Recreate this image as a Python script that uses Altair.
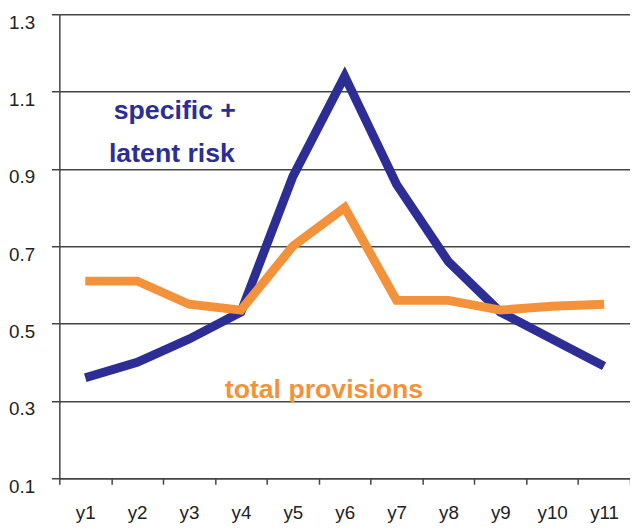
import altair as alt
import pandas as pd

years = ["y1", "y2", "y3", "y4", "y5", "y6", "y7", "y8", "y9", "y10", "y11"]
specific_latent = [0.36, 0.40, 0.46, 0.53, 0.88, 1.14, 0.86, 0.66, 0.53, 0.46, 0.39]
total_provisions = [0.61, 0.61, 0.55, 0.535, 0.70, 0.80, 0.56, 0.56, 0.535, 0.545, 0.55]
series_names = ["specific + latent risk", "total provisions"]
series_colors = ["#2c2e96", "#f3923a"]
y_ticks = [0.1, 0.3, 0.5, 0.7, 0.9, 1.1, 1.3]

df = pd.DataFrame({
    "year": years + years,
    "value": specific_latent + total_provisions,
    "series": [series_names[0]] * len(years) + [series_names[1]] * len(years),
    "idx": list(range(len(years))) * 2,
})

FONT = "Liberation Sans"
GRID = "#444444"

lines = alt.Chart(df).mark_line(strokeWidth=9, strokeCap="butt", strokeJoin="miter").encode(
    x=alt.X("year:N", sort=years, bandPosition=0.5,
            scale=alt.Scale(type="band", paddingInner=0, paddingOuter=0),
            axis=alt.Axis(title=None, labelAngle=0, tickBand="extent", tickSize=6,
                          tickColor=GRID, tickWidth=1.5, domainColor=GRID, domainWidth=1.5,
                          labelFont=FONT, labelFontSize=19, labelColor="#222222",
                          labelPadding=20, grid=False)),
    y=alt.Y("value:Q", scale=alt.Scale(domain=[0.1, 1.3], nice=False, zero=False),
            axis=alt.Axis(title=None, values=y_ticks, format=".1f", grid=True,
                          gridColor=GRID, gridWidth=1.5, tickSize=8, tickColor=GRID,
                          tickWidth=1.5, domainColor=GRID, domainWidth=1.5,
                          labelFont=FONT, labelFontSize=19, labelColor="#222222",
                          labelBaseline="top", labelPadding=17, labelOffset=-1)),
    color=alt.Color("series:N", scale=alt.Scale(domain=series_names, range=series_colors), legend=None),
    order="idx:Q",
)

def label(text, x, y, color):
    return alt.Chart(pd.DataFrame({"t": [text]})).mark_text(
        font=FONT, fontSize=27, fontWeight="bold", color=color, align="center", baseline="alphabetic"
    ).encode(text="t:N", x=alt.value(x), y=alt.value(y))

chart = alt.layer(
    lines,
    label("specific +", 117, 106, series_colors[0]),
    label("latent risk", 114, 150, series_colors[0]),
    label("total provisions", 268, 389, series_colors[1]),
).properties(
    width=578, height=470,
    padding={"left": 52, "top": 3, "right": 0, "bottom": 45},
    autosize=alt.AutoSizeParams(type="none"),
    background="white",
).configure_view(stroke=None)

chart.save("out.html", embed_options={"renderer": "svg", "actions": False})
